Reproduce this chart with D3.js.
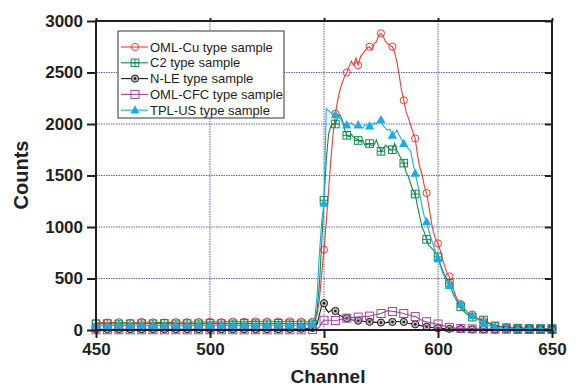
<!DOCTYPE html>
<html>
<head>
<meta charset="utf-8">
<script src="https://cdn.jsdelivr.net/npm/d3@7"></script>
<style>
  html, body { margin: 0; padding: 0; background: #fff; }
  svg { display: block; font-family: "Liberation Sans", Arial, sans-serif; }
</style>
</head>
<body>
<figure id="chart" style="margin:0"></figure>
<script>
// channel positions: coarse on the flat baseline, every channel across the peak
const channels = d3.range(450, 545, 5).concat(d3.range(545, 621, 1), d3.range(625, 651, 5));

const omlCu = [
  70, 72, 75, 70, 78, 74, 72, 76, 75, 78, 80, 76, 82, 80, 84, 80, 82, 85, 80,
  80, 90, 150, 300, 550, 780, 1050, 1350, 1650, 1900,
  2100, 2230, 2330, 2400, 2460, 2500, 2555, 2610, 2570, 2640,
  2570, 2655, 2680, 2710, 2740, 2750, 2720, 2780, 2800, 2860,
  2880, 2850, 2800, 2780, 2760, 2750, 2690, 2600, 2470, 2330,
  2230, 2120, 2060, 1990, 1920, 1860, 1700, 1580, 1510, 1400,
  1330, 1200, 1060, 950, 880, 840, 770, 690, 615, 550,
  520, 460, 380, 320, 280, 250, 210, 190, 170, 160,
  150, 140, 120, 105, 95, 85,
  40, 25, 20, 18, 15, 15
];
const c2 = [
  60, 62, 58, 60, 62, 60, 64, 60, 62, 60, 64, 62, 60, 64, 62, 60, 65, 62, 60,
  60, 90, 200, 450, 850, 1260, 1650, 1900, 1980, 2000,
  2000, 2060, 2090, 2040, 1950, 1890, 1875, 1900, 1870, 1860,
  1840, 1830, 1845, 1790, 1800, 1810, 1790, 1800, 1845, 1780,
  1735, 1760, 1795, 1770, 1750, 1750, 1810, 1740, 1700, 1650,
  1620, 1530, 1490, 1420, 1360, 1320, 1200, 1100, 1000, 950,
  880, 820, 800, 775, 740, 710, 640, 580, 530, 490,
  455, 390, 340, 290, 250, 225, 190, 165, 150, 135,
  125, 115, 110, 105, 100, 97,
  40, 22, 18, 15, 15, 15
];
const nLe = [
  8, 8, 8, 8, 8, 8, 8, 8, 8, 8, 8, 8, 8, 8, 8, 8, 8, 10, 12,
  20, 30, 60, 150, 240, 260, 200, 170, 190, 200,
  185, 160, 140, 130, 120, 115, 105, 100, 95, 92,
  90, 88, 85, 82, 80, 80, 78, 76, 74, 72,
  72, 70, 72, 74, 76, 78, 80, 82, 82, 80,
  78, 72, 66, 62, 58, 55, 50, 45, 40, 35,
  32, 28, 25, 22, 20, 18, 16, 15, 14, 13,
  12, 11, 10, 10, 9, 9, 8, 8, 8, 7,
  7, 7, 6, 6, 6, 6,
  5, 5, 5, 5, 5, 5
];
const omlCfc = [
  2, 2, 2, 2, 2, 2, 2, 2, 2, 2, 2, 2, 2, 2, 2, 2, 2, 2, 2,
  5, 5, 10, 30, 70, 95, 95, 95, 95, 90,
  92, 95, 100, 105, 110, 115, 118, 120, 122, 125,
  125, 128, 130, 130, 132, 135, 140, 145, 150, 155,
  160, 170, 180, 188, 185, 180, 178, 175, 170, 165,
  160, 150, 145, 140, 135, 130, 120, 105, 95, 85,
  80, 75, 70, 65, 60, 58, 52, 45, 38, 30,
  25, 22, 20, 18, 16, 15, 14, 13, 12, 12,
  11, 10, 10, 10, 9, 9,
  8, 8, 6, 5, 5, 5
];
const tplUs = [
  45, 42, 45, 44, 46, 42, 45, 44, 46, 45, 44, 46, 45, 44, 46, 45, 48, 46, 44,
  55, 120, 350, 750, 1050, 1230, 2150, 2130, 2110, 2100,
  2090, 2080, 2060, 2020, 2000, 1990, 2000, 2010, 1990, 1980,
  1990, 1970, 1960, 1990, 1990, 1980, 1990, 2010, 2000, 2040,
  2040, 1980, 1960, 1940, 1950, 1890, 1910, 1940, 1890, 1850,
  1810, 1790, 1760, 1740, 1620, 1520, 1420, 1320, 1200, 1100,
  1050, 960, 890, 820, 750, 690, 620, 560, 510, 470,
  430, 380, 330, 300, 270, 250, 220, 195, 170, 150,
  140, 125, 115, 95, 80, 65,
  25, 12, 10, 10, 10, 10
];

const seriesNames = ['OML-Cu type sample', 'C2 type sample', 'N-LE type sample', 'OML-CFC type sample', 'TPL-US type sample'];
const seriesValues = [omlCu, c2, nLe, omlCfc, tplUs];
const seriesColors = ['#ee3a33', '#0f8a48', '#1a1a1a', '#a0449c', '#18aee2'];
const seriesMarkers = ['circle', 'squarePlus', 'circleDot', 'square', 'triangle'];

const xTicks = [450, 500, 550, 600, 650];
const yTicks = [0, 500, 1000, 1500, 2000, 2500, 3000];

const width = 578;
const height = 388;
const margin = { top: 21, right: 26, bottom: 58, left: 96 };
const innerW = width - margin.left - margin.right;
const innerH = height - margin.top - margin.bottom;

const svg = d3.select('figure#chart')
  .append('svg')
  .attr('width', width)
  .attr('height', height);

const g = svg.append('g')
  .attr('transform', 'translate(' + margin.left + ',' + margin.top + ')');

const x = d3.scaleLinear().domain([450, 650]).range([0, innerW]);
const y = d3.scaleLinear().domain([0, 3000]).range([innerH, 0]);

// dotted grid
g.append('g')
  .selectAll('line')
  .data(xTicks.slice(1, -1))
  .enter()
  .append('line')
  .attr('x1', (d) => x(d)).attr('x2', (d) => x(d))
  .attr('y1', 0).attr('y2', innerH)
  .attr('stroke', '#5b69b3').attr('stroke-width', 1).attr('stroke-dasharray', '1.5,1');
g.append('g')
  .selectAll('line')
  .data(yTicks.slice(1, -1))
  .enter()
  .append('line')
  .attr('y1', (d) => y(d)).attr('y2', (d) => y(d))
  .attr('x1', 0).attr('x2', innerW)
  .attr('stroke', '#5b69b3').attr('stroke-width', 1).attr('stroke-dasharray', '1.5,1');

// series lines and markers
const line = d3.line()
  .x((d) => x(d[0]))
  .y((d) => y(d[1]));

function drawMarker(sel, type, color) {
  if (type === 'circle') {
    sel.append('circle').attr('r', 3.6).attr('fill', 'none').attr('stroke', color).attr('stroke-width', 1);
  } else if (type === 'circleDot') {
    sel.append('circle').attr('r', 3.6).attr('fill', '#bbb').attr('stroke', color).attr('stroke-width', 1);
    sel.append('circle').attr('r', 1.3).attr('fill', color);
  } else if (type === 'square') {
    sel.append('rect').attr('x', -4).attr('y', -4).attr('width', 8).attr('height', 8)
      .attr('fill', 'none').attr('stroke', color).attr('stroke-width', 1);
  } else if (type === 'squarePlus') {
    sel.append('rect').attr('x', -3.8).attr('y', -3.8).attr('width', 7.6).attr('height', 7.6)
      .attr('fill', 'none').attr('stroke', color).attr('stroke-width', 1);
    sel.append('path').attr('d', 'M-3.8,0H3.8M0,-3.8V3.8').attr('stroke', color).attr('stroke-width', 1);
  } else if (type === 'triangle') {
    sel.append('path').attr('d', 'M0,-5L4.6,3.4H-4.6Z').attr('fill', color);
  }
}

seriesValues.forEach((vals, i) => {
  const pts = channels.map((c, k) => [c, vals[k]]);
  g.append('path')
    .datum(pts)
    .attr('fill', 'none')
    .attr('stroke', seriesColors[i])
    .attr('stroke-width', 1.1)
    .attr('d', line);

  const marks = g.append('g')
    .selectAll('g')
    .data(pts.filter((p) => p[0] % 5 === 0))
    .enter()
    .append('g')
    .attr('transform', (d) => 'translate(' + x(d[0]) + ',' + y(d[1]) + ')');
  drawMarker(marks, seriesMarkers[i], seriesColors[i]);
});

// axes
const tickFont = (sel) => sel.selectAll('text')
  .attr('font-size', '17px').attr('font-weight', 'bold').attr('fill', '#231f20')
  .attr('font-family', '"Liberation Sans", Arial, sans-serif');

const axisStyle = (sel) => {
  sel.select('.domain').remove();
  sel.selectAll('line').attr('stroke', '#231f20').attr('stroke-width', 2);
};

g.append('g')
  .call(d3.axisLeft(y).tickValues(yTicks).tickSize(9).tickPadding(4).tickFormat(d3.format('d')))
  .call(axisStyle).call(tickFont);

g.append('g')
  .attr('transform', 'translate(0,' + innerH + ')')
  .call(d3.axisBottom(x).tickValues(xTicks).tickSize(8).tickPadding(5).tickFormat(d3.format('d')))
  .call(axisStyle).call(tickFont);

g.append('g')
  .attr('transform', 'translate(' + innerW + ',0)')
  .call(d3.axisRight(y).tickValues(yTicks).tickSize(-7).tickFormat(''))
  .call(axisStyle);

g.append('g')
  .call(d3.axisTop(x).tickValues(xTicks).tickSize(3).tickFormat(''))
  .call(axisStyle);

// frame
g.append('rect')
  .attr('x', 0).attr('y', 0)
  .attr('width', innerW).attr('height', innerH)
  .attr('fill', 'none').attr('stroke', '#231f20').attr('stroke-width', 2);

// axis titles
svg.append('text')
  .attr('transform', 'translate(28,175) rotate(-90)')
  .attr('text-anchor', 'middle')
  .attr('font-size', '20px').attr('font-weight', 'bold').attr('fill', '#231f20')
  .text('Counts');

svg.append('text')
  .attr('x', margin.left + innerW / 2 + 4).attr('y', 383)
  .attr('text-anchor', 'middle')
  .attr('font-size', '19px').attr('font-weight', 'bold').attr('fill', '#231f20')
  .text('Channel');

// legend
const legend = svg.append('g').attr('transform', 'translate(118,31)');
legend.append('rect')
  .attr('width', 166).attr('height', 87)
  .attr('fill', '#fff').attr('stroke', '#333').attr('stroke-width', 1);

seriesNames.forEach((name, i) => {
  const row = legend.append('g').attr('transform', 'translate(0,' + (16 + i * 15.8) + ')');
  row.append('line')
    .attr('x1', 3).attr('x2', 30)
    .attr('stroke', seriesColors[i]).attr('stroke-width', 1.1);
  const m = row.append('g').attr('transform', 'translate(17,0)');
  drawMarker(m, seriesMarkers[i], seriesColors[i]);
  row.append('text')
    .attr('x', 32).attr('y', 4.5)
    .attr('font-size', '13px').attr('fill', '#231f20')
    .text(name);
});
</script>
</body>
</html>
